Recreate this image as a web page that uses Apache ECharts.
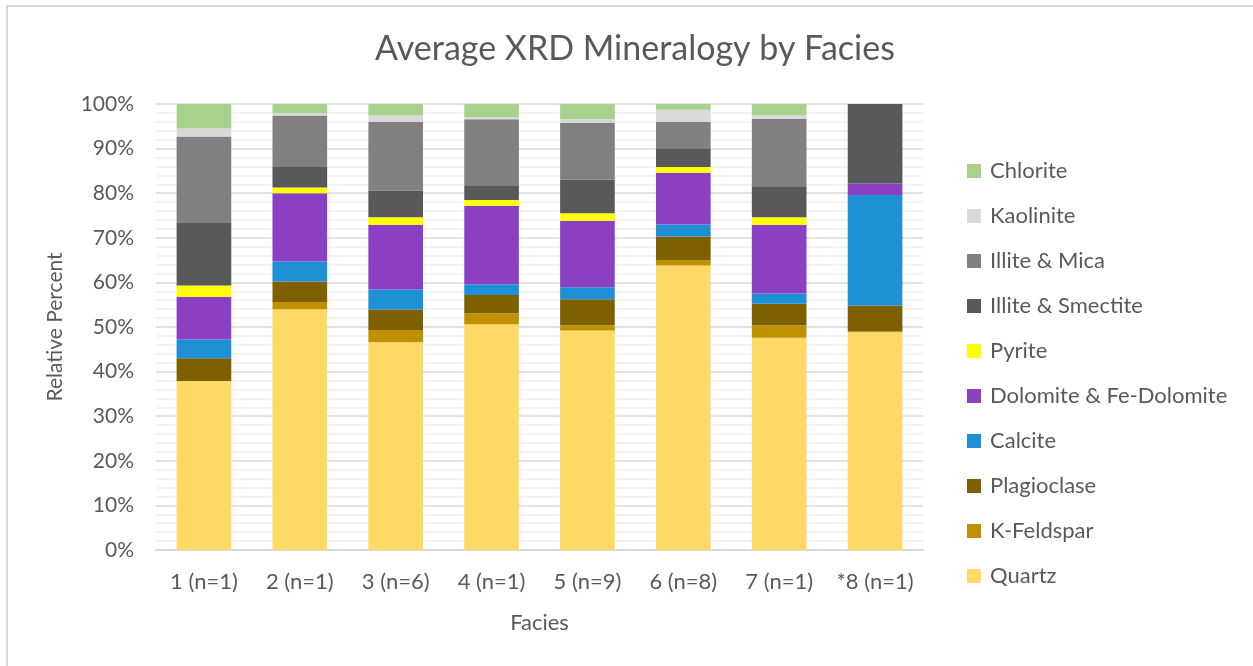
<!DOCTYPE html>
<html>
<head>
<meta charset="utf-8">
<script src="https://cdn.jsdelivr.net/npm/echarts@6/dist/echarts.min.js"></script>
<style>
html,body{margin:0;padding:0;background:#fff;}
#frame{position:absolute;left:6px;top:5px;width:1247px;height:661px;border-left:2px solid #d9d9d9;border-top:2px solid #d9d9d9;box-sizing:border-box;}
#chart{position:absolute;left:0;top:0;width:1253px;height:666px;}
</style>
</head>
<body>
<div id="frame"></div>
<div id="chart"></div>
<script>
const categories = ['1 (n=1)','2 (n=1)','3 (n=6)','4 (n=1)','5 (n=9)','6 (n=8)','7 (n=1)','*8 (n=1)'];
const quartz      = [37.9, 54.0, 46.6, 50.6, 49.2, 63.8, 47.6, 48.8];
const kFeldspar   = [0.0, 1.6, 2.7, 2.5, 1.2, 1.2, 2.8, 0.2];
const plagioclase = [5.1, 4.6, 4.6, 4.1, 5.8, 5.3, 4.8, 5.8];
const calcite     = [4.2, 4.5, 4.5, 2.4, 2.7, 2.7, 2.3, 24.8];
const dolomite    = [9.6, 15.3, 14.5, 17.6, 14.9, 11.6, 15.4, 2.6];
const pyrite      = [2.5, 1.3, 1.7, 1.3, 1.7, 1.3, 1.7, 0.0];
const illiteSmectite = [14.2, 4.6, 6.0, 3.3, 7.5, 4.2, 6.8, 17.8];
const illiteMica  = [19.2, 11.5, 15.4, 14.8, 12.8, 5.9, 15.3, 0.0];
const kaolinite   = [1.8, 0.5, 1.4, 0.5, 0.8, 2.7, 0.8, 0.0];
const chlorite    = [5.5, 2.1, 2.6, 2.9, 3.4, 1.3, 2.5, 0.0];

const seriesDefs = [
  ['Quartz', quartz, '#FFD966'],
  ['K-Feldspar', kFeldspar, '#BF9000'],
  ['Plagioclase', plagioclase, '#7F6000'],
  ['Calcite', calcite, '#1E90D6'],
  ['Dolomite & Fe-Dolomite', dolomite, '#8B40C4'],
  ['Pyrite', pyrite, '#FFFF00'],
  ['Illite & Smectite', illiteSmectite, '#595959'],
  ['Illite & Mica', illiteMica, '#808080'],
  ['Kaolinite', kaolinite, '#D9D9D9'],
  ['Chlorite', chlorite, '#A9D18E']
];

const FONT = 'Lato';
const chart = echarts.init(document.getElementById('chart'), null, {renderer:'canvas'});
chart.setOption({
  animation: false,
  title: {
    text: 'Average XRD Mineralogy by Facies',
    left: 630, top: 27, textAlign: 'center',
    textStyle: {fontFamily: FONT, fontSize: 34, fontWeight: 'normal', color: '#595959'}
  },
  legend: {
    orient: 'vertical',
    left: 962, top: 155,
    itemWidth: 14, itemHeight: 14, itemGap: 23,
    icon: 'rect',
    data: seriesDefs.map(d => d[0]).reverse(),
    textStyle: {fontFamily: FONT, fontSize: 22, color: '#595959', padding:[0,0,0,4]}
  },
  grid: {left: 156, right: 330, top: 104, bottom: 116},
  xAxis: {
    type: 'category',
    data: categories,
    name: 'Facies',
    nameLocation: 'middle',
    nameGap: 62,
    nameTextStyle: {fontFamily: FONT, fontSize: 22, color: '#595959'},
    axisLine: {lineStyle: {color: '#d9d9d9', width: 2}},
    axisTick: {show: false},
    axisLabel: {interval: 0, hideOverlap: false, fontFamily: FONT, fontSize: 22, color: '#595959', margin: 21}
  },
  yAxis: {
    type: 'value',
    min: 0, max: 100, interval: 10,
    name: 'Relative Percent',
    nameLocation: 'middle',
    nameGap: 90,
    nameRotate: 90,
    nameTextStyle: {fontFamily: FONT, fontSize: 21, color: '#595959'},
    axisLine: {show: false},
    axisTick: {show: false},
    axisLabel: {fontFamily: FONT, fontSize: 21, color: '#595959', margin: 22, formatter: v => v + '%'},
    splitLine: {lineStyle: {color: '#d9d9d9', width: 1.5}},
    minorTick: {show: false, splitNumber: 5},
    minorSplitLine: {show: true, lineStyle: {color: '#f0f0f0', width: 1.5}}
  },
  series: seriesDefs.map(d => ({
    name: d[0],
    type: 'bar',
    stack: 'total',
    barWidth: '57%',
    data: d[1],
    itemStyle: {color: d[2]},
    emphasis: {disabled: true}
  }))
});
</script>
</body>
</html>
